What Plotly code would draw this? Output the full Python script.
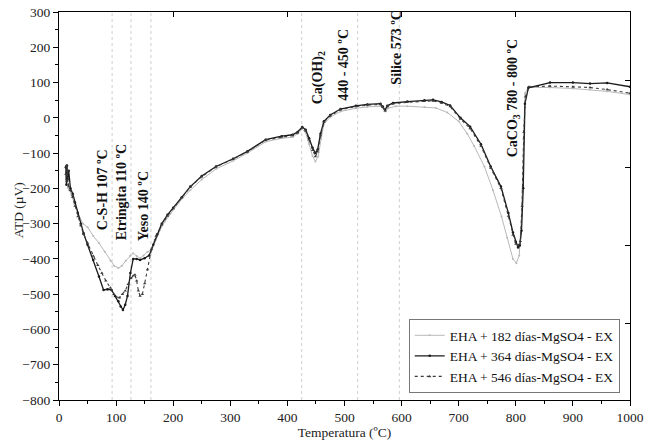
import plotly.graph_objects as go

# ---------------- data ----------------
T_182 = [12, 13, 14, 15, 16, 18, 22, 27, 32, 37, 42, 50, 60, 70, 80, 90, 97, 104, 110, 117, 124,
         130, 136, 142, 148, 155, 163, 170, 177, 185, 195, 210, 230, 250, 275, 305, 330, 362, 390,
         409, 418, 426, 432, 438, 444, 449, 454, 459, 464, 475, 493, 520, 540, 563, 568, 572, 576,
         590, 610, 640, 660, 680, 700, 715, 727, 745, 760, 775, 785, 795, 801, 806, 810, 813, 816,
         822, 860, 900, 930, 960, 1000]
V_182 = [-175, -150, -190, -165, -200, -205, -220, -245, -265, -285, -300, -310, -335, -355, -380,
         -405, -420, -426, -420, -405, -392, -384, -392, -398, -390, -380, -374, -345, -318, -295,
         -272, -240, -205, -175, -145, -122, -100, -68, -58, -55, -45, -32, -42, -75, -108, -124,
         -110, -60, -18, 2, 18, 27, 31, 33, 26, 18, 27, 33, 33, 31, 28, 15, -10, -45, -80, -138,
         -205, -280, -340, -400, -412, -390, -280, -60, 70, 86, 86, 83, 80, 75, 66]

T_364 = [12, 13, 14, 15, 17, 20, 24, 28, 33, 38, 43, 50, 60, 70, 78, 85, 92, 98, 104, 108, 112,
         116, 120, 125, 130, 136, 142, 150, 158, 165, 172, 180, 190, 200, 215, 230, 250, 275, 305,
         330, 362, 390, 409, 418, 426, 432, 438, 444, 449, 453, 458, 464, 475, 493, 520, 540, 563,
         567, 571, 575, 585, 610, 640, 655, 670, 685, 703, 720, 739, 756, 774, 787, 795, 800, 804,
         807, 810, 813, 816, 822, 860, 900, 930, 960, 1000]
V_364 = [-140, -190, -135, -175, -150, -200, -215, -240, -270, -300, -327, -360, -403, -450, -488,
         -486, -488, -505, -520, -535, -545, -530, -505, -440, -400, -400, -403, -398, -390, -360,
         -330, -300, -275, -255, -225, -195, -165, -138, -116, -95, -62, -52, -48, -40, -26, -34,
         -58, -85, -100, -90, -45, -10, 8, 25, 34, 38, 40, 32, 22, 34, 42, 46, 50, 51, 45, 35, 0,
         -25, -75, -138, -195, -270, -325, -352, -368, -362, -320, -200, 40, 85, 100, 100, 97, 99,
         88, 74]

T_546 = [12, 13, 14, 15, 17, 20, 24, 28, 33, 38, 43, 50, 60, 68, 75, 82, 90, 96, 101, 106, 111,
         116, 121, 126, 130, 133, 136, 139, 142, 146, 150, 155, 162, 170, 180, 190, 200, 215, 230,
         250, 275, 305, 330, 362, 390, 409, 418, 426, 432, 438, 444, 449, 453, 458, 464, 475, 493,
         520, 540, 563, 567, 571, 575, 585, 610, 640, 655, 670, 685, 703, 720, 739, 756, 774, 787,
         795, 800, 804, 808, 811, 814, 817, 823, 860, 900, 930, 960, 1000]
V_546 = [-160, -135, -180, -150, -195, -205, -225, -250, -280, -305, -330, -355, -392, -418, -440,
         -462, -482, -500, -508, -510, -500, -490, -472, -455, -448, -445, -462, -490, -505, -500,
         -470, -430, -372, -335, -303, -278, -257, -226, -196, -167, -139, -117, -96, -63, -54,
         -50, -42, -28, -37, -62, -92, -110, -96, -50, -12, 6, 23, 32, 36, 38, 30, 20, 32, 40, 44,
         47, 48, 42, 32, -3, -30, -80, -142, -200, -278, -332, -358, -362, -350, -250, -40, 60,
         88, 90, 88, 86, 80, 70]

SERIES_NAMES = ["EHA + 182 días-MgSO4 - EX", "EHA + 364 días-MgSO4 - EX", "EHA + 546 días-MgSO4 - EX"]

REF_LINES_T = [93, 126, 161, 425, 523, 596]

LABELS = ["C-S-H 107 ºC", "Etringita 110 ºC", "Yeso 140 ºC", "Ca(OH)<sub>2</sub>",
          "440 - 450 ºC", "Silice 573 ºC", "CaCO<sub>3</sub> 780 - 800 ºC"]
LABEL_T = [76, 111, 147, 456, 499, 592, 796]
LABEL_V = [-204, -210, -250, 113, 150, 199, 54]

X_TICKS = [0, 100, 200, 300, 400, 500, 600, 700, 800, 900, 1000]
Y_TICKS = [300, 200, 100, 0, -100, -200, -300, -400, -500, -600, -700, -800]
RIGHT_TICKS = [105, -142, -363, -582]
TOP_TICKS = [0, 200, 400, 600, 800, 1000]

FONT = "Liberation Serif"

fig = go.Figure()

fig.add_trace(go.Scatter(x=T_182, y=V_182, name=SERIES_NAMES[0], mode="lines+markers",
                         line=dict(color="#b8b8b8", width=1),
                         marker=dict(size=2, color="#b8b8b8", symbol="circle")))
fig.add_trace(go.Scatter(x=T_364, y=V_364, name=SERIES_NAMES[1], mode="lines+markers",
                         line=dict(color="#1a1a1a", width=1.3),
                         marker=dict(size=2.5, color="#1a1a1a", symbol="circle")))
fig.add_trace(go.Scatter(x=T_546, y=V_546, name=SERIES_NAMES[2], mode="lines+markers",
                         line=dict(color="#3a3a3a", width=1.1, dash="dot"),
                         marker=dict(size=3, color="#3a3a3a", symbol="triangle-up")))

for t in REF_LINES_T:
    fig.add_shape(type="line", xref="x", yref="paper", x0=t, x1=t, y0=0, y1=1,
                  line=dict(color="#cfcfcf", width=1, dash="3px,3px"), layer="below")

for txt, t, v in zip(LABELS, LABEL_T, LABEL_V):
    fig.add_annotation(x=t, y=v, xref="x", yref="y", text="<b>" + txt + "</b>", textangle=-90,
                       showarrow=False, xanchor="center", yanchor="middle",
                       font=dict(family=FONT, size=14, color="#111"))

# y-axis title placed as annotation for precise position
fig.add_annotation(x=-0.071, y=0.49, xref="paper", yref="paper", text="ATD (µV)", textangle=-90,
                   showarrow=False, xanchor="center", yanchor="middle",
                   font=dict(family=FONT, size=13.5, color="#222"))

# invisible trace for mirrored axes
fig.add_trace(go.Scatter(x=[0], y=[0], xaxis="x2", yaxis="y2", showlegend=False,
                         mode="markers", marker=dict(opacity=0), hoverinfo="skip"))

axis_common = dict(showline=True, linecolor="black", linewidth=1.3, showgrid=False, zeroline=False,
                   tickfont=dict(family=FONT, size=13.5, color="#222"), ticks="outside",
                   tickcolor="black", tickwidth=1.2, ticklen=5, automargin=False)

fig.update_layout(
    width=652, height=441,
    margin=dict(l=59, r=22, t=12, b=41, autoexpand=False),
    paper_bgcolor="white", plot_bgcolor="white",
    font=dict(family=FONT, size=13, color="#222"),
    xaxis=dict(range=[0, 1000], tickvals=X_TICKS, **axis_common,
               minor=dict(ticks="outside", ticklen=3, dtick=50, tickcolor="black"),
               title=dict(text="Temperatura (ºC)", font=dict(family=FONT, size=13.5), standoff=2)),
    yaxis=dict(range=[-800, 300], tickvals=Y_TICKS, **axis_common,
               minor=dict(ticks="outside", ticklen=3, dtick=50, tickcolor="black")),
    xaxis2=dict(range=[0, 1000], overlaying="x", side="top", showline=True, linecolor="black",
                linewidth=1.3, showgrid=False, zeroline=False, tickvals=TOP_TICKS, ticks="inside",
                ticklen=5, tickcolor="black", showticklabels=False, automargin=False),
    yaxis2=dict(range=[-800, 300], overlaying="y", side="right", showline=True, linecolor="black",
                linewidth=1.3, showgrid=False, zeroline=False, tickvals=RIGHT_TICKS, ticks="inside",
                ticklen=5, tickcolor="black", showticklabels=False, automargin=False),
    legend=dict(x=0.982, y=0.018, xanchor="right", yanchor="bottom", bgcolor="white",
                bordercolor="#777", borderwidth=1, font=dict(family=FONT, size=13.5, color="#111"),
                tracegroupgap=0, itemwidth=30),
    showlegend=True,
)

fig.write_html("out.html", config={"displayModeBar": False},
               post_script="document.body.style.margin='0';document.body.style.overflow='hidden';")
